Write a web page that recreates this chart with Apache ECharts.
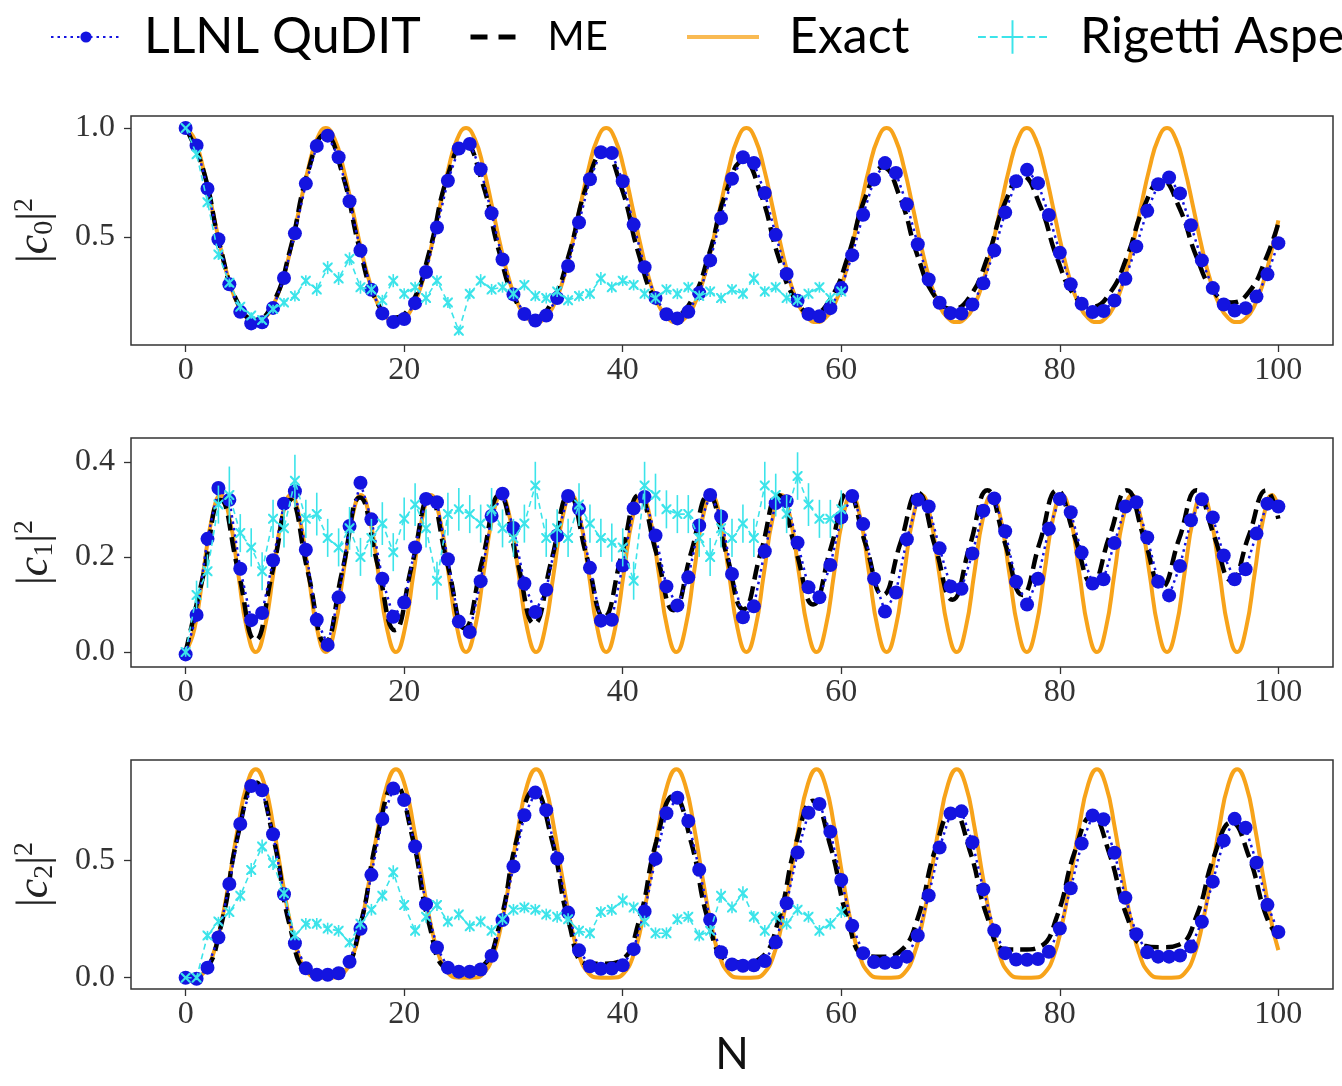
<!DOCTYPE html>
<html><head><meta charset="utf-8">
<script src="https://cdn.jsdelivr.net/npm/echarts@6/dist/echarts.min.js"></script>
<style>html,body{margin:0;padding:0;background:#fff}#c{width:1342px;height:1086px}</style>
</head><body><div id="c"></div>
<script>
// ---------- DATA ----------
const N_STEPS = [0,1,2,3,4,5,6,7,8,9,10,11,12,13,14,15,16,17,18,19,20,21,22,23,24,25,26,27,28,29,30,
31,32,33,34,35,36,37,38,39,40,41,42,43,44,45,46,47,48,49,50,51,52,53,54,55,56,57,58,59,60,
61,62,63,64,65,66,67,68,69,70,71,72,73,74,75,76,77,78,79,80,81,82,83,84,85,86,87,88,89,90,
91,92,93,94,95,96,97,98,99,100];
const X_TICKS = [0,20,40,60,80,100];
const Y_TICKS_C0 = [0.5,1.0];
const Y_TICKS_C1 = [0.0,0.2,0.4];
const Y_TICKS_C2 = [0.0,0.5];

// Exact solution
const EXACT_N = [0,0.80,1.60,2.41,3.21,4.01,4.81,5.61,6.42,7.22,8.02,8.82,9.62,10.42,11.23,12.03,
12.83,13.63,14.43,15.24,16.04,16.84,17.64,18.44,19.25,20.05,20.85,21.65,22.45,23.25,24.06,24.86,
25.66,26.46,27.26,28.07,28.87,29.67,30.47,31.27,32.08,32.88,33.68,34.48,35.28,36.08,36.89,37.69,
38.49,39.29,40.09,40.90,41.70,42.50,43.30,44.10,44.91,45.71,46.51,47.31,48.11,48.91,49.72,50.52,
51.32,52.12,52.92,53.73,54.53,55.33,56.13,56.93,57.74,58.54,59.34,60.14,60.94,61.74,62.55,63.35,
64.15,64.95,65.75,66.56,67.36,68.16,68.96,69.76,70.57,71.37,72.17,72.97,73.77,74.57,75.38,76.18,
76.98,77.78,78.58,79.39,80.19,80.99,81.79,82.59,83.40,84.20,85.00,85.80,86.60,87.40,88.21,89.01,
89.81,90.61,91.41,92.22,93.02,93.82,94.62,95.42,96.23,97.03,97.83,98.63,99.43,100];
const EXACT_C0 = [1.000,0.950,0.816,0.634,0.448,0.293,0.187,0.128,0.110,0.128,0.187,0.293,0.448,0.634,0.816,0.950,
1.000,0.950,0.816,0.634,0.448,0.293,0.187,0.128,0.110,0.128,0.187,0.293,0.448,0.634,0.816,0.950,
1.000,0.950,0.816,0.634,0.448,0.293,0.187,0.128,0.110,0.128,0.187,0.293,0.448,0.634,0.816,0.950,
1.000,0.950,0.816,0.634,0.448,0.293,0.187,0.128,0.110,0.128,0.187,0.293,0.448,0.634,0.816,0.950,
1.000,0.950,0.816,0.634,0.448,0.293,0.187,0.128,0.110,0.128,0.187,0.293,0.448,0.634,0.816,0.950,
1.000,0.950,0.816,0.634,0.448,0.293,0.187,0.128,0.110,0.128,0.187,0.293,0.448,0.634,0.816,0.950,
1.000,0.950,0.816,0.634,0.448,0.293,0.187,0.128,0.110,0.128,0.187,0.293,0.448,0.634,0.816,0.950,
1.000,0.950,0.816,0.634,0.448,0.293,0.187,0.128,0.110,0.128,0.187,0.293,0.448,0.576];
const EXACT_C1 = [0,0.048,0.165,0.282,0.330,0.282,0.165,0.048,0,0.048,0.165,0.282,0.330,0.282,0.165,0.048,
0,0.048,0.165,0.282,0.330,0.282,0.165,0.048,0,0.048,0.165,0.282,0.330,0.282,0.165,0.048,
0,0.048,0.165,0.282,0.330,0.282,0.165,0.048,0,0.048,0.165,0.282,0.330,0.282,0.165,0.048,
0,0.048,0.165,0.282,0.330,0.282,0.165,0.048,0,0.048,0.165,0.282,0.330,0.282,0.165,0.048,
0,0.048,0.165,0.282,0.330,0.282,0.165,0.048,0,0.048,0.165,0.282,0.330,0.282,0.165,0.048,
0,0.048,0.165,0.282,0.330,0.282,0.165,0.048,0,0.048,0.165,0.282,0.330,0.282,0.165,0.048,
0,0.048,0.165,0.282,0.330,0.282,0.165,0.048,0,0.048,0.165,0.282,0.330,0.282,0.165,0.048,
0,0.048,0.165,0.282,0.330,0.282,0.165,0.048,0,0.048,0.165,0.282,0.330,0.306];
const EXACT_C2 = [0,0.001,0.019,0.085,0.223,0.425,0.648,0.824,0.890,0.824,0.648,0.425,0.223,0.085,0.019,0.001,
0,0.001,0.019,0.085,0.223,0.425,0.648,0.824,0.890,0.824,0.648,0.425,0.223,0.085,0.019,0.001,
0,0.001,0.019,0.085,0.223,0.425,0.648,0.824,0.890,0.824,0.648,0.425,0.223,0.085,0.019,0.001,
0,0.001,0.019,0.085,0.223,0.425,0.648,0.824,0.890,0.824,0.648,0.425,0.223,0.085,0.019,0.001,
0,0.001,0.019,0.085,0.223,0.425,0.648,0.824,0.890,0.824,0.648,0.425,0.223,0.085,0.019,0.001,
0,0.001,0.019,0.085,0.223,0.425,0.648,0.824,0.890,0.824,0.648,0.425,0.223,0.085,0.019,0.001,
0,0.001,0.019,0.085,0.223,0.425,0.648,0.824,0.890,0.824,0.648,0.425,0.223,0.085,0.019,0.001,
0,0.001,0.019,0.085,0.223,0.425,0.648,0.824,0.890,0.824,0.648,0.425,0.223,0.118];

// ME
const ME_N = [0,1.60,3.19,4.79,6.38,7.98,9.57,11.17,12.76,14.36,15.95,17.55,19.14,20.74,22.33,23.93,
25.52,27.12,28.71,30.31,31.90,33.50,35.09,36.69,38.28,39.88,41.47,43.07,44.66,46.26,47.85,49.45,
51.04,52.64,54.23,55.83,57.42,59.02,60.61,62.21,63.80,65.40,66.99,68.59,70.18,71.78,73.37,74.97,
76.56,78.16,79.75,81.35,82.94,84.54,86.13,87.73,89.32,90.92,92.51,94.11,95.70,97.30,98.89,100];
const ME_C0 = [1.000,0.810,0.450,0.196,0.120,0.194,0.443,0.794,0.970,0.787,0.442,0.198,0.130,0.200,0.438,0.772,
0.930,0.756,0.430,0.199,0.130,0.201,0.422,0.734,0.890,0.727,0.421,0.204,0.140,0.206,0.413,0.704,
0.850,0.697,0.412,0.210,0.150,0.217,0.411,0.683,0.820,0.678,0.413,0.226,0.170,0.228,0.405,0.655,
0.780,0.648,0.404,0.231,0.180,0.240,0.407,0.642,0.760,0.636,0.409,0.248,0.200,0.247,0.405,0.563];
const ME_C1 = [0,0.160,0.320,0.173,0.025,0.173,0.320,0.170,0.020,0.173,0.325,0.186,0.046,0.186,0.325,0.188,
0.050,0.190,0.330,0.195,0.060,0.195,0.330,0.202,0.074,0.202,0.330,0.209,0.088,0.209,0.330,0.210,
0.090,0.210,0.330,0.215,0.100,0.217,0.335,0.228,0.120,0.228,0.335,0.222,0.110,0.225,0.340,0.230,
0.120,0.230,0.340,0.243,0.145,0.243,0.340,0.238,0.137,0.238,0.340,0.245,0.150,0.245,0.340,0.280];
const ME_C2 = [0,0.022,0.213,0.609,0.835,0.607,0.215,0.027,0.015,0.032,0.218,0.605,0.825,0.602,0.220,0.037,
0.026,0.046,0.223,0.591,0.800,0.591,0.232,0.061,0.060,0.075,0.239,0.581,0.776,0.578,0.240,0.078,
0.065,0.084,0.241,0.569,0.755,0.560,0.245,0.094,0.090,0.113,0.253,0.546,0.713,0.540,0.258,0.122,
0.120,0.132,0.263,0.535,0.690,0.529,0.264,0.137,0.130,0.141,0.263,0.518,0.663,0.518,0.263,0.170];

// LLNL QuDIT (N = 0..100)
const LLNL_C0 = [1.000,0.920,0.722,0.490,0.283,0.157,0.104,0.109,0.175,0.312,
0.517,0.745,0.918,0.965,0.866,0.664,0.438,0.258,0.150,0.110,
0.124,0.197,0.340,0.544,0.758,0.906,0.927,0.811,0.609,0.397,
0.237,0.147,0.117,0.140,0.220,0.367,0.567,0.765,0.889,0.885,
0.756,0.557,0.362,0.221,0.146,0.127,0.157,0.243,0.393,0.587,
0.767,0.866,0.840,0.702,0.510,0.331,0.208,0.147,0.137,0.174,
0.266,0.417,0.602,0.764,0.839,0.794,0.650,0.467,0.305,0.199,
0.151,0.149,0.191,0.288,0.438,0.613,0.756,0.808,0.747,0.601,
0.428,0.283,0.194,0.156,0.161,0.209,0.309,0.457,0.620,0.742,
0.773,0.700,0.554,0.393,0.266,0.191,0.163,0.174,0.227,0.329,
0.472];
const LLNL_C1 = [-0.005,0.078,0.238,0.345,0.320,0.175,0.067,0.082,0.193,0.312,
0.338,0.215,0.068,0.015,0.115,0.265,0.356,0.279,0.154,0.074,
0.104,0.220,0.322,0.315,0.195,0.064,0.042,0.149,0.286,0.333,
0.261,0.144,0.084,0.131,0.245,0.328,0.301,0.177,0.066,0.068,
0.182,0.302,0.326,0.245,0.138,0.098,0.157,0.266,0.330,0.285,
0.164,0.073,0.096,0.212,0.313,0.317,0.230,0.136,0.115,0.183,
0.283,0.328,0.269,0.154,0.085,0.125,0.237,0.320,0.306,0.218,
0.138,0.133,0.207,0.297,0.323,0.254,0.148,0.100,0.154,0.259,
0.322,0.294,0.209,0.144,0.153,0.229,0.306,0.315,0.241,0.148,
0.119,0.181,0.277,0.321,0.283,0.203,0.153,0.174,0.249,0.312,
0.306];
const LLNL_C2 = [0.000,-0.004,0.043,0.172,0.400,0.656,0.818,0.800,0.612,0.356,
0.147,0.040,0.013,0.013,0.019,0.068,0.209,0.439,0.677,0.807,
0.758,0.560,0.314,0.129,0.043,0.026,0.026,0.035,0.094,0.246,
0.475,0.693,0.790,0.715,0.509,0.278,0.117,0.049,0.038,0.039,
0.053,0.122,0.283,0.507,0.702,0.768,0.669,0.461,0.247,0.109,
0.057,0.051,0.053,0.071,0.151,0.318,0.534,0.704,0.741,0.623,
0.417,0.222,0.105,0.067,0.064,0.066,0.090,0.180,0.351,0.556,
0.701,0.710,0.578,0.377,0.202,0.105,0.078,0.077,0.080,0.111,
0.210,0.382,0.573,0.692,0.676,0.533,0.341,0.186,0.109,0.090,
0.090,0.095,0.133,0.239,0.410,0.585,0.678,0.640,0.491,0.311,
0.195];

// Rigetti Aspen (N = 0..60) with error bars
const RIG_C0 = [1.00,0.88,0.66,0.42,0.29,0.18,0.14,0.12,0.17,0.20,
0.23,0.30,0.26,0.36,0.31,0.40,0.27,0.26,0.21,0.30,
0.24,0.27,0.22,0.30,0.20,0.07,0.24,0.30,0.26,0.27,
0.24,0.28,0.23,0.22,0.25,0.21,0.23,0.24,0.31,0.27,
0.30,0.28,0.24,0.22,0.26,0.24,0.27,0.23,0.25,0.22,
0.26,0.24,0.31,0.25,0.27,0.22,0.21,0.24,0.27,0.22,
0.25];
const RIG_C1 = [0.00,0.12,0.17,0.31,0.33,0.25,0.22,0.17,0.28,0.26,
0.36,0.28,0.29,0.24,0.22,0.26,0.20,0.24,0.27,0.21,
0.28,0.31,0.26,0.15,0.29,0.30,0.29,0.27,0.30,0.26,
0.24,0.27,0.35,0.24,0.26,0.24,0.31,0.27,0.24,0.23,
0.22,0.15,0.35,0.33,0.30,0.29,0.29,0.24,0.20,0.26,
0.24,0.27,0.24,0.35,0.33,0.29,0.37,0.31,0.28,0.28,
0.30];
const RIG_C2 = [0.00,0.00,0.18,0.24,0.28,0.35,0.46,0.56,0.49,0.36,
0.18,0.23,0.23,0.21,0.20,0.15,0.23,0.29,0.35,0.45,
0.31,0.20,0.26,0.31,0.24,0.27,0.22,0.24,0.20,0.25,
0.29,0.30,0.29,0.27,0.26,0.25,0.20,0.19,0.28,0.29,
0.33,0.30,0.24,0.19,0.19,0.25,0.26,0.18,0.20,0.35,
0.30,0.36,0.26,0.20,0.26,0.23,0.29,0.26,0.20,0.23,
0.28];
const RIG_ERR_C0 = [0.005,0.02,0.025,0.025,0.02,0.02,0.015,0.015,0.02,0.02,
0.025,0.025,0.03,0.03,0.03,0.03,0.03,0.025,0.025,0.03,
0.025,0.025,0.03,0.025,0.025,0.02,0.025,0.03,0.025,0.025,
0.025,0.025,0.025,0.025,0.025,0.025,0.025,0.025,0.03,0.025,
0.025,0.025,0.025,0.025,0.025,0.025,0.025,0.025,0.025,0.025,
0.025,0.025,0.03,0.025,0.025,0.025,0.025,0.025,0.025,0.025,
0.025];
const RIG_ERR_C1 = [0.01,0.03,0.035,0.04,0.06,0.04,0.04,0.04,0.04,0.04,
0.055,0.04,0.045,0.04,0.04,0.045,0.04,0.04,0.045,0.04,
0.045,0.045,0.04,0.04,0.045,0.045,0.04,0.04,0.045,0.04,
0.04,0.04,0.05,0.04,0.04,0.04,0.045,0.04,0.04,0.04,
0.04,0.04,0.05,0.045,0.04,0.04,0.04,0.04,0.04,0.04,
0.04,0.04,0.04,0.05,0.045,0.04,0.05,0.045,0.04,0.04,
0.04];
const RIG_ERR_C2 = [0.005,0.01,0.02,0.02,0.025,0.025,0.03,0.03,0.03,0.025,
0.02,0.025,0.025,0.025,0.025,0.02,0.025,0.025,0.025,0.03,
0.025,0.025,0.025,0.025,0.025,0.025,0.025,0.025,0.025,0.025,
0.025,0.025,0.025,0.025,0.025,0.025,0.025,0.025,0.025,0.025,
0.03,0.025,0.025,0.025,0.025,0.025,0.025,0.025,0.025,0.03,
0.025,0.03,0.025,0.025,0.025,0.025,0.025,0.025,0.025,0.025,
0.025];

// ---------- CHART ----------
const BLUE = '#1414e0', ORANGE = '#f7a31a', BLACK = '#000000', CYAN = '#3ce4ea';
const zip = (xs, ys) => { const n = Math.min(xs.length, ys.length); const out = []; for (let i = 0; i < n; i++) out.push([xs[i], ys[i]]); return out; };
const zip3 = (xs, ys, es) => { const n = Math.min(xs.length, ys.length, es.length); const out = []; for (let i = 0; i < n; i++) out.push([xs[i], ys[i], es[i]]); return out; };

const panels = [
  { exact: EXACT_C0, me: ME_C0, llnl: LLNL_C0, rig: RIG_C0, err: RIG_ERR_C0, ticks: Y_TICKS_C0, min: 0.005, max: 1.055, sub: '0', top: 116 },
  { exact: EXACT_C1, me: ME_C1, llnl: LLNL_C1, rig: RIG_C1, err: RIG_ERR_C1, ticks: Y_TICKS_C1, min: -0.0315, max: 0.45, sub: '1', top: 438 },
  { exact: EXACT_C2, me: ME_C2, llnl: LLNL_C2, rig: RIG_C2, err: RIG_ERR_C2, ticks: Y_TICKS_C2, min: -0.048, max: 0.929, sub: '2', top: 760 }
];

const tickFont = { fontFamily: 'Liberation Serif', fontSize: 32, color: '#333' };
const X_SYMBOL = 'path://M0,0 L3,0 L10,7 L17,0 L20,0 L20,3 L13,10 L20,17 L20,20 L17,20 L10,13 L3,20 L0,20 L0,17 L7,10 L0,3 Z';
const RIG_LEGEND_ICON = 'path://M0,16 L8,16 L8,18 L0,18 Z M12,16 L20,16 L20,18 L12,18 Z M24,16 L31,16 L31,18 L24,18 Z M39,16 L46,16 L46,18 L39,18 Z M50,16 L58,16 L58,18 L50,18 Z M62,16 L70,16 L70,18 L62,18 Z M34,0 L36,0 L36,34 L34,34 Z M30,16 L40,16 L40,18 L30,18 Z';

const grids = [], xAxes = [], yAxes = [], series = [];
panels.forEach((p, i) => {
  grids.push({ left: 131, top: p.top, width: 1202, height: 229, show: true, borderColor: '#333', borderWidth: 1.5, backgroundColor: 'transparent' });
  xAxes.push({
    gridIndex: i, type: 'value', min: -5, max: 105, position: 'bottom',
    axisLine: { show: false, onZero: false },
    axisTick: { show: true, customValues: X_TICKS, length: 7, lineStyle: { color: '#333', width: 1.3 } },
    axisLabel: Object.assign({ customValues: X_TICKS, margin: 10 }, tickFont),
    splitLine: { show: false },
    name: i === 2 ? 'N' : '', nameLocation: 'middle', nameGap: 44,
    nameTextStyle: { fontFamily: 'Lato', fontSize: 44, color: '#111' }
  });
  yAxes.push({
    gridIndex: i, type: 'value', min: p.min, max: p.max, position: 'left',
    axisLine: { show: false, onZero: false },
    axisTick: { show: true, customValues: p.ticks, length: 7, lineStyle: { color: '#333', width: 1.3 } },
    axisLabel: Object.assign({ customValues: p.ticks, margin: 16, formatter: v => Number(v).toFixed(1) }, tickFont),
    splitLine: { show: false },
    name: '{b||}{i|c}{s|' + p.sub + '}{b||}{p|2}', nameLocation: 'middle', nameRotate: 90, nameGap: 72,
    nameTextStyle: {
      color: '#222', fontFamily: 'Liberation Serif', fontSize: 44,
      rich: {
        b: { fontFamily: 'Liberation Serif', fontSize: 44, lineHeight: 48, color: '#222' },
        i: { fontFamily: 'Liberation Serif', fontSize: 44, fontStyle: 'italic', lineHeight: 48, color: '#222' },
        s: { fontFamily: 'Liberation Serif', fontSize: 28, lineHeight: 28, verticalAlign: 'bottom', color: '#222' },
        p: { fontFamily: 'Liberation Serif', fontSize: 28, lineHeight: 24, verticalAlign: 'top', color: '#222' }
      }
    }
  });
  series.push({
    name: 'Exact', type: 'line', xAxisIndex: i, yAxisIndex: i, data: zip(EXACT_N, p.exact),
    smooth: 0.5, symbol: 'none', lineStyle: { color: ORANGE, width: 4 }, itemStyle: { color: ORANGE }, z: 2
  });
  series.push({
    name: 'ME', type: 'line', xAxisIndex: i, yAxisIndex: i, data: zip(ME_N, p.me),
    smooth: 0.5, symbol: 'none', lineStyle: { color: BLACK, width: 4.5, type: [15, 7] }, itemStyle: { color: BLACK }, z: 3
  });
  series.push({
    name: 'LLNL QuDIT', type: 'line', xAxisIndex: i, yAxisIndex: i, data: zip(N_STEPS, p.llnl),
    symbol: 'circle', symbolSize: 14, showSymbol: true,
    lineStyle: { color: BLUE, width: 2.5, type: [2.5, 4] }, itemStyle: { color: BLUE }, z: 4
  });
  series.push({
    name: 'Rigetti Aspen', type: 'line', xAxisIndex: i, yAxisIndex: i, data: zip(N_STEPS, p.rig),
    symbol: X_SYMBOL, symbolSize: 10, showSymbol: true,
    lineStyle: { color: CYAN, width: 1.6, type: [6, 4] }, itemStyle: { color: CYAN }, z: 5
  });
  series.push({
    name: 'Rigetti Aspen error', type: 'custom', xAxisIndex: i, yAxisIndex: i, data: zip3(N_STEPS, p.rig, p.err),
    encode: { x: 0, y: 1 }, clip: true, z: 5,
    renderItem: function (params, api) {
      const x = api.value(0), y = api.value(1), e = api.value(2);
      const a = api.coord([x, y + e]), b = api.coord([x, y - e]);
      return { type: 'line', shape: { x1: a[0], y1: a[1], x2: b[0], y2: b[1] }, style: { stroke: CYAN, lineWidth: 1.6 } };
    }
  });
});

const legendBase = { top: 12, padding: 0, selectedMode: false, itemHeight: 14, orient: 'horizontal' };
const legends = [
  Object.assign({}, legendBase, { data: ['LLNL QuDIT'], left: 50, itemWidth: 70,
    textStyle: { fontFamily: 'Lato', fontSize: 50, lineHeight: 50, color: '#000', padding: [0, 0, 0, 18] } }),
  Object.assign({}, legendBase, { data: ['ME'], left: 468, itemWidth: 52, top: 17,
    lineStyle: { type: [17, 11], width: 5 }, itemStyle: { opacity: 0 },
    textStyle: { fontFamily: 'Lato', fontSize: 40, lineHeight: 40, color: '#000', padding: [0, 0, 0, 20] } }),
  Object.assign({}, legendBase, { data: ['Exact'], left: 685, itemWidth: 72, itemStyle: { opacity: 0 },
    lineStyle: { width: 4, opacity: 0.75 },
    textStyle: { fontFamily: 'Lato', fontSize: 50, lineHeight: 50, color: '#000', padding: [0, 0, 0, 25] } }),
  Object.assign({}, legendBase, { data: [{ name: 'Rigetti Aspen', icon: RIG_LEGEND_ICON }], left: 978, itemWidth: 69, itemHeight: 34,
    textStyle: { fontFamily: 'Lato', fontSize: 50, lineHeight: 50, color: '#000', padding: [0, 0, 0, 28] } })
];

const chart = echarts.init(document.getElementById('c'), null, { renderer: 'canvas', width: 1342, height: 1086 });
chart.setOption({
  animation: false,
  backgroundColor: '#ffffff',
  legend: legends,
  grid: grids,
  xAxis: xAxes,
  yAxis: yAxes,
  series: series
});
</script>
</body></html>
